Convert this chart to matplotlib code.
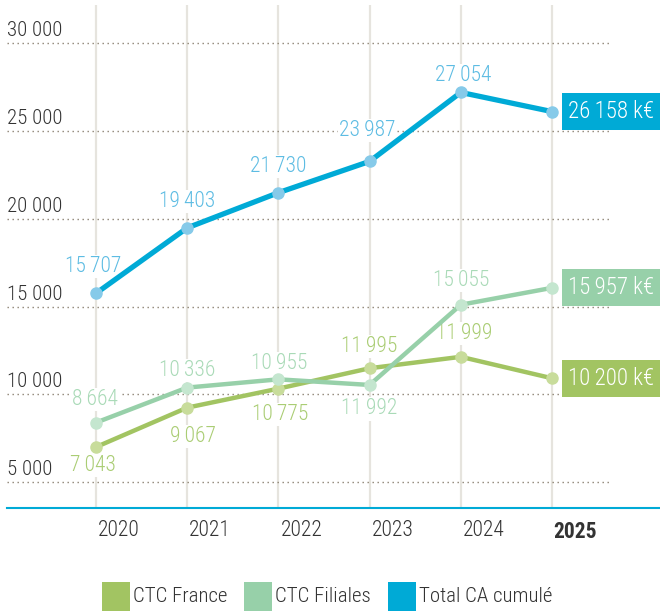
import matplotlib.pyplot as plt
from matplotlib.patches import Rectangle
from matplotlib.transforms import ScaledTranslation

plt.rcParams["font.family"] = ["Roboto Condensed", "Roboto", "DejaVu Sans"]

years = [2020, 2021, 2022, 2023, 2024, 2025]
year_labels = ["2020", "2021", "2022", "2023", "2024", "2025"]

# values
total_vals = [15750, 19470, 21470, 23250, 27170, 26080]
filiales_vals = [8400, 10390, 10860, 10540, 15100, 16060]
france_vals = [7010, 9250, 10330, 11490, 12140, 10920]

# printed data labels (2020-2024) and end boxes (2025)
total_labels = ["15\u2009707", "19\u2009403", "21\u2009730", "23\u2009987", "27\u2009054"]
filiales_labels = ["8\u2009664", "10\u2009336", "10\u2009955", "11\u2009992", "15\u2009055"]
france_labels = ["7\u2009043", "9\u2009067", "10\u2009775", "11\u2009995", "11\u2009999"]
end_labels = ["26\u2009158 k€", "15\u2009957 k€", "10\u2009200 k€"]

yticks = [5000, 10000, 15000, 20000, 25000, 30000]
ytick_labels = ["5 000", "10 000", "15 000", "20 000", "25 000", "30 000"]

legend_names = ["CTC France", "CTC Filiales", "Total CA cumulé"]

# colours
c_total, c_total_pt, c_total_txt = "#00AAD6", "#86CAE9", "#5DBCE3"
c_fil, c_fil_pt, c_fil_txt = "#97D0A9", "#C4E6CF", "#A9DAB7"
c_fra, c_fra_pt, c_fra_txt = "#A2C462", "#C8DC9B", "#AACD74"
grid_c = "#8C8272"
vline_c = "#E6E4DE"
text_c = "#333333"

W, H = 660, 611
fig = plt.figure(figsize=(W / 100, H / 100), dpi=100)
ax_left, ax_right, ax_top, ax_bot = 7, 660, 5, 508
ax = fig.add_axes([ax_left / W, (H - ax_bot) / H, (ax_right - ax_left) / W, (ax_bot - ax_top) / H])

px_x = 91.2
x0 = 2020 - (96 - ax_left) / px_x
x1 = 2020 + (ax_right - 96) / px_x
ax.set_xlim(x0, x1)
ax.set_ylim(3545, 32140)
for s in ["top", "right", "left"]:
    ax.spines[s].set_visible(False)
ax.spines["bottom"].set_color(c_total)
ax.spines["bottom"].set_linewidth(1.5)

# vertical year lines
ax.vlines(years, 3545, 32140, color=vline_c, lw=1.6, zorder=1)

# dotted horizontal grid + labels above them
grid_end = 2020 + (610 - 96) / px_x
ax.hlines(yticks, x0, grid_end, color=grid_c, lw=1.0, linestyles=(0, (1, 2.6)), zorder=1)
ax.set_yticks([])
for v, lab in zip(yticks, ytick_labels):
    ax.annotate(lab, (x0, v), xytext=(0, 3), textcoords="offset pixels",
                ha="left", va="bottom", fontsize=15, color=text_c, fontweight="light")

# x labels, shifted right of the year lines as in the original
ax.set_xticks(years)
ax.set_xticklabels(year_labels, fontsize=15.5, color=text_c, fontweight="light")
ax.tick_params(axis="x", length=0, pad=9)
shift = ScaledTranslation(23 / 100, 0, fig.dpi_scale_trans)
for lab in ax.get_xticklabels():
    lab.set_transform(lab.get_transform() + shift)
ax.get_xticklabels()[-1].set_fontweight("bold")

# lines
ax.plot(years, france_vals, color=c_fra, lw=3.2, zorder=3,
        marker="o", ms=8, mfc=c_fra_pt, mec=c_fra_pt)
ax.plot(years, filiales_vals, color=c_fil, lw=3.2, zorder=3,
        marker="o", ms=8, mfc=c_fil_pt, mec=c_fil_pt)
ax.plot(years, total_vals, color=c_total, lw=3.8, zorder=3,
        marker="o", ms=8, mfc=c_total_pt, mec=c_total_pt)

# data labels (offsets in pixels)
total_off = [(-3, 27), (0, 26), (0, 26), (-2, 31), (2, 17)]
filiales_off = [(-1, 23), (0, 17), (1, 16), (0, -24), (0, 24)]
france_off = [(-3, -18), (6, -29), (2, -26), (0, 22), (3, 23)]

series = [
    (total_vals, total_labels, total_off, c_total_txt),
    (filiales_vals, filiales_labels, filiales_off, c_fil_txt),
    (france_vals, france_labels, france_off, c_fra_txt),
]
for vals, labs, offs, col in series:
    for yr, v, lab, (dx, dy) in zip(years[:-1], vals[:-1], labs, offs):
        ax.annotate(lab, (yr, v), xytext=(dx, dy), textcoords="offset pixels",
                    ha="center", va="center", fontsize=15.5, color=col, zorder=2,
                    fontweight="light",
                    bbox=dict(boxstyle="square,pad=0.05", fc="white", ec="none"))

# end boxes
box_x0 = 2025 + (562 - 552) / px_x
box_h = 37 / 17.6 * 1000
box_colors = [c_total, c_fil, c_fra]
end_vals = [total_vals[-1], filiales_vals[-1], france_vals[-1]]
for v, lab, col in zip(end_vals, end_labels, box_colors):
    ax.add_patch(Rectangle((box_x0, v - box_h / 2), x1 - box_x0, box_h,
                           facecolor=col, edgecolor="none", zorder=5, clip_on=False))
    ax.text((box_x0 + x1) / 2, v, lab, ha="center", va="center",
            fontsize=16.5, color="white", zorder=6, fontweight="light")

# legend: squares + labels placed in pixel positions
sq_left = [102, 244, 388]
for xl, name, col in zip(sq_left, legend_names, [c_fra, c_fil, c_total]):
    fig.add_artist(Rectangle((xl / W, 0), 28 / W, 29 / H, transform=fig.transFigure,
                             facecolor=col, edgecolor="none"))
    fig.text((xl + 31) / W, 1 - 597 / H, name, ha="left", va="center",
             fontsize=15, color=text_c, fontweight="light")

fig.savefig("out.png", dpi=100)
